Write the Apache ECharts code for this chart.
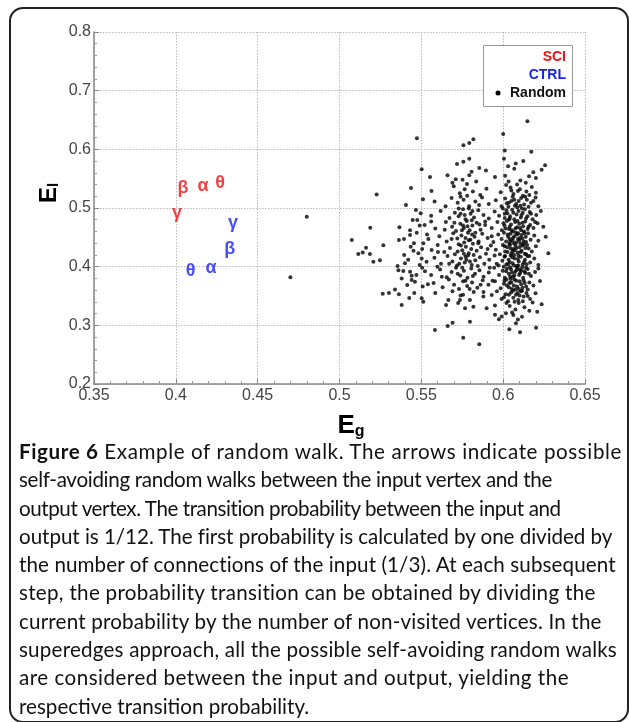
<!DOCTYPE html>
<html>
<head>
<meta charset="utf-8">
<script src="https://cdn.jsdelivr.net/npm/echarts@6/dist/echarts.min.js"></script>
<style>
  html, body { margin: 0; padding: 0; background: #fff; }
  #frame {
    position: absolute; left: 9px; top: 7px; width: 620px; height: 716px;
    box-sizing: border-box; border: 2px solid #222; border-radius: 14px;
  }
  #main { position: absolute; left: 0; top: 0; width: 629px; height: 440px; }
  #caption {
    position: absolute; left: 19px; top: 437px;
    font-family: Lato, "Open Sans", sans-serif; font-size: 20.6px; line-height: 28.3px;
    color: #111; white-space: nowrap;
  }
  #caption .ln { display: block; }
  #caption .ln span { display: inline-block; }
</style>
</head>
<body>
<div id="frame"></div>
<div id="main"></div>
<div id="caption">
<div class="ln" data-w="603"><span><b>Figure 6</b> Example of random walk. The arrows indicate possible</span></div>
<div class="ln" data-w="533"><span>self-avoiding random walks between the input vertex and the</span></div>
<div class="ln" data-w="542"><span>output vertex. The transition probability between the input and</span></div>
<div class="ln" data-w="593"><span>output is 1/12. The first probability is calculated by one divided by</span></div>
<div class="ln" data-w="597"><span>the number of connections of the input (1/3). At each subsequent</span></div>
<div class="ln" data-w="577"><span>step, the probability transition can be obtained by dividing the</span></div>
<div class="ln" data-w="583"><span>current probability by the number of non-visited vertices. In the</span></div>
<div class="ln" data-w="598"><span>superedges approach, all the possible self-avoiding random walks</span></div>
<div class="ln" data-w="550"><span>are considered between the input and output, yielding the</span></div>
<div class="ln"><span>respective transition probability.</span></div>
</div>
<script>
// Greek letter markers (SCI red, CTRL blue)
var sciLetters = ['β', 'α', 'θ', 'γ'];
var sciX = [0.4044, 0.4166, 0.427, 0.4007];
var sciY = [0.534, 0.537, 0.543, 0.4915];

var ctrlLetters = ['γ', 'β', 'α', 'θ'];
var ctrlX = [0.435, 0.433, 0.4215, 0.409];
var ctrlY = [0.474, 0.430, 0.398, 0.393];

// random walk points [Eg, El]
var randomPts = [
  [0.5473,0.619],[0.6148,0.648],[0.600,0.626],[0.5818,0.617],
  [0.5793,0.611],[0.5757,0.607],[0.6172,0.596],
  [0.6005,0.584],[0.5757,0.579],[0.5793,0.584],[0.6123,0.580],[0.601,0.598],
  [0.6077,0.576],[0.6256,0.573],[0.6068,0.567],[0.5854,0.568],[0.5895,0.564],[0.5807,0.562],[0.5502,0.566],[0.5718,0.575],[0.6184,0.561],[0.6235,0.565],[0.603,0.571],
  [0.5553,0.553],[0.571,0.549],[0.569,0.543],[0.5793,0.556],[0.6158,0.554],[0.5950,0.553],[0.5752,0.548],[0.6033,0.545],[0.6105,0.547],[0.620,0.551],[0.5835,0.545],[0.5779,0.541],[0.6085,0.540],[0.6138,0.543],[0.5660,0.556],[0.6012,0.555],
  [0.5437,0.534],[0.5227,0.523],[0.6045,0.535],[0.6102,0.532],[0.6142,0.528],[0.6175,0.536],[0.5985,0.527],[0.6063,0.524],[0.6121,0.521],[0.5765,0.532],[0.5815,0.528],[0.5735,0.525],[0.5860,0.522],[0.5698,0.537],[0.5780,0.521],[0.6018,0.539],[0.6200,0.526],[0.6090,0.529],[0.5562,0.529],[0.5898,0.533],[0.6160,0.522],[0.6050,0.530],
  [0.5406,0.505],[0.5510,0.515],[0.5581,0.511],[0.5685,0.517],[0.5722,0.509],[0.5758,0.514],[0.5792,0.503],[0.5830,0.511],[0.5871,0.518],[0.5912,0.507],[0.5955,0.513],[0.5990,0.503],[0.6012,0.516],[0.6035,0.509],[0.6058,0.519],[0.6072,0.504],[0.6095,0.512],[0.6110,0.517],[0.6128,0.506],[0.6145,0.514],[0.6170,0.509],[0.6198,0.518],[0.6215,0.503],[0.6032,0.502],[0.6087,0.501],[0.5740,0.519],[0.5648,0.503],[0.5853,0.505],[0.6155,0.502],[0.6068,0.514],
  [0.48,0.485],[0.5467,0.4966],[0.5496,0.491],[0.5447,0.4796],[0.5475,0.4796],[0.5560,0.487],[0.5618,0.495],[0.5672,0.483],[0.5705,0.492],[0.5728,0.486],[0.5755,0.498],[0.5770,0.481],[0.5801,0.490],[0.5822,0.484],[0.5848,0.496],[0.5880,0.488],[0.5912,0.482],[0.5948,0.494],[0.5975,0.487],[0.5998,0.499],[0.6010,0.483],[0.6025,0.491],[0.6042,0.486],[0.6055,0.497],[0.6068,0.481],[0.6082,0.489],[0.6094,0.495],[0.6108,0.484],[0.6120,0.492],[0.6133,0.498],[0.6148,0.486],[0.6162,0.493],[0.6180,0.481],[0.6202,0.488],[0.6230,0.495],[0.5790,0.499],[0.5740,0.490],[0.6040,0.482],[0.6115,0.499],[0.6020,0.496],
  [0.5188,0.4665],[0.5366,0.467],[0.5472,0.458],[0.5431,0.462],[0.5520,0.471],[0.5585,0.465],[0.5650,0.476],[0.5688,0.468],[0.5712,0.461],[0.5738,0.473],[0.5760,0.466],[0.5778,0.478],[0.5795,0.462],[0.5812,0.470],[0.5838,0.475],[0.5862,0.463],[0.5890,0.471],[0.5930,0.466],[0.5965,0.476],[0.5992,0.462],[0.6008,0.470],[0.6022,0.478],[0.6036,0.464],[0.6048,0.472],[0.6060,0.460],[0.6073,0.476],[0.6085,0.467],[0.6098,0.473],[0.6110,0.462],[0.6122,0.469],[0.6135,0.477],[0.6150,0.464],[0.6165,0.471],[0.6185,0.466],[0.6210,0.474],[0.6245,0.468],[0.5755,0.470],[0.5808,0.479],[0.6040,0.468],[0.6118,0.475],[0.6075,0.465],[0.6002,0.474],
  [0.5075,0.4455],[0.5363,0.4455],[0.5394,0.447],[0.5431,0.454],[0.5512,0.44],[0.5543,0.447],[0.5610,0.452],[0.5655,0.443],[0.5695,0.457],[0.5720,0.448],[0.5745,0.453],[0.5762,0.441],[0.5785,0.458],[0.5800,0.446],[0.5825,0.451],[0.5850,0.443],[0.5872,0.456],[0.5905,0.449],[0.5940,0.442],[0.5970,0.455],[0.5990,0.447],[0.6005,0.458],[0.6018,0.443],[0.6030,0.451],[0.6045,0.456],[0.6057,0.445],[0.6068,0.452],[0.6080,0.441],[0.6092,0.457],[0.6102,0.449],[0.6112,0.454],[0.6125,0.443],[0.6138,0.451],[0.6152,0.457],[0.6168,0.446],[0.6190,0.453],[0.6215,0.444],[0.626,0.451],[0.6060,0.449],[0.6098,0.444],[0.6085,0.455],[0.6040,0.447],[0.5770,0.449],[0.5810,0.455],[0.6130,0.457],
  [0.5115,0.4216],[0.5142,0.424],[0.5162,0.4324],[0.5186,0.4216],[0.5268,0.4365],[0.5435,0.434],[0.5482,0.4227],[0.5563,0.4284],[0.5600,0.437],[0.5640,0.425],[0.5675,0.432],[0.5705,0.421],[0.5728,0.438],[0.5750,0.428],[0.5772,0.434],[0.5790,0.423],[0.5815,0.439],[0.5838,0.427],[0.5865,0.433],[0.5895,0.422],[0.5925,0.436],[0.5955,0.429],[0.5980,0.421],[0.5998,0.437],[0.6012,0.426],[0.6025,0.433],[0.6038,0.439],[0.6050,0.422],[0.6062,0.430],[0.6075,0.436],[0.6088,0.424],[0.6100,0.433],[0.6113,0.427],[0.6125,0.438],[0.6140,0.421],[0.6155,0.431],[0.6175,0.426],[0.6200,0.435],[0.6276,0.4228],[0.6070,0.428],[0.6105,0.439],[0.6045,0.431],[0.5760,0.422],[0.6010,0.435],[0.6135,0.432],
  [0.5207,0.4085],[0.5247,0.411],[0.5400,0.4057],[0.5355,0.4011],[0.5502,0.414],[0.5532,0.4085],[0.5580,0.415],[0.5620,0.405],[0.5660,0.418],[0.5690,0.409],[0.5718,0.402],[0.5742,0.414],[0.5765,0.407],[0.5785,0.419],[0.5808,0.403],[0.5830,0.411],[0.5858,0.416],[0.5885,0.405],[0.5915,0.412],[0.5948,0.419],[0.5972,0.402],[0.5995,0.410],[0.6008,0.417],[0.6020,0.404],[0.6033,0.412],[0.6046,0.419],[0.6058,0.406],[0.6070,0.414],[0.6083,0.401],[0.6095,0.409],[0.6108,0.417],[0.6120,0.404],[0.6133,0.412],[0.6148,0.418],[0.6165,0.407],[0.6190,0.414],[0.6215,0.403],[0.6055,0.416],[0.6090,0.413],[0.6040,0.408],[0.6128,0.408],[0.5775,0.412],
  [0.5360,0.394],[0.5390,0.3926],[0.5431,0.3915],[0.5441,0.3845],[0.5505,0.398],[0.5560,0.386],[0.5615,0.395],[0.5655,0.382],[0.5685,0.391],[0.5712,0.398],[0.5738,0.385],[0.5760,0.393],[0.5782,0.381],[0.5805,0.397],[0.5828,0.388],[0.5855,0.394],[0.5880,0.383],[0.5912,0.390],[0.5945,0.398],[0.5975,0.386],[0.5997,0.393],[0.6010,0.381],[0.6023,0.397],[0.6035,0.388],[0.6048,0.395],[0.6060,0.383],[0.6073,0.391],[0.6085,0.398],[0.6097,0.386],[0.6110,0.393],[0.6122,0.381],[0.6135,0.389],[0.6150,0.396],[0.6170,0.384],[0.6195,0.391],[0.6215,0.397],[0.6068,0.385],[0.6100,0.395],[0.6042,0.383],[0.6140,0.398],
  [0.5441,0.3773],[0.5461,0.3744],[0.5414,0.3688],[0.5339,0.361],[0.5508,0.366],[0.5575,0.372],[0.5630,0.365],[0.5668,0.378],[0.5700,0.369],[0.5730,0.362],[0.5755,0.375],[0.5780,0.367],[0.5810,0.373],[0.5842,0.364],[0.5875,0.377],[0.5910,0.369],[0.5950,0.375],[0.5985,0.363],[0.6005,0.371],[0.6020,0.378],[0.6035,0.365],[0.6050,0.373],[0.6065,0.368],[0.6080,0.376],[0.6095,0.362],[0.6110,0.370],[0.6125,0.377],[0.6140,0.366],[0.6160,0.373],[0.6185,0.368],[0.6225,0.3756],[0.6075,0.361],[0.6045,0.379],[0.6118,0.364],
  [0.5264,0.354],[0.5302,0.355],[0.5363,0.353],[0.5426,0.3466],[0.5457,0.355],[0.5502,0.346],[0.5512,0.3403],[0.5665,0.3432],[0.5736,0.3432],[0.5797,0.3432],[0.5879,0.349],[0.593,0.3517],[0.5962,0.358],[0.5990,0.345],[0.6015,0.353],[0.6030,0.341],[0.6048,0.356],[0.6062,0.347],[0.6078,0.352],[0.6092,0.343],[0.6108,0.358],[0.6125,0.349],[0.6142,0.355],[0.6165,0.345],[0.6198,0.3545],[0.5820,0.357],[0.5755,0.352],[0.5690,0.358],[0.6060,0.359],[0.6100,0.351],
  [0.538,0.3347],[0.5651,0.3347],[0.5818,0.3318],[0.5767,0.329],[0.5899,0.329],[0.6235,0.336],[0.6208,0.323],[0.6115,0.3148],[0.6062,0.3177],[0.6017,0.3205],[0.5991,0.315],[0.6040,0.333],[0.6075,0.327],[0.6095,0.338],[0.6130,0.331],[0.6160,0.325],[0.6020,0.338],[0.6055,0.322],[0.5950,0.334],[0.5725,0.338],
  [0.5583,0.292],[0.5661,0.299],[0.5691,0.3045],[0.5756,0.279],[0.5854,0.2677],[0.5797,0.3063],[0.5974,0.3103],[0.6038,0.2933],[0.6103,0.288],[0.6078,0.3035],[0.6201,0.296],[0.5950,0.318],[0.6090,0.310],
  [0.47,0.382],
  // denser core, right cluster
  [0.6015,0.465],[0.6028,0.455],[0.6043,0.443],[0.6052,0.462],[0.6065,0.440],[0.6078,0.458],[0.6090,0.447],[0.6103,0.466],[0.6117,0.448],[0.6127,0.460],[0.6140,0.442],[0.6155,0.468],
  [0.6012,0.418],[0.6027,0.425],[0.6042,0.437],[0.6057,0.426],[0.6067,0.420],[0.6080,0.432],[0.6093,0.419],[0.6107,0.425],[0.6118,0.436],[0.6132,0.422],[0.6146,0.437],[0.6160,0.418],
  [0.6003,0.400],[0.6018,0.392],[0.6030,0.404],[0.6043,0.399],[0.6054,0.390],[0.6066,0.402],[0.6080,0.394],[0.6092,0.402],[0.6104,0.389],[0.6117,0.399],[0.6130,0.392],[0.6143,0.404],[0.6157,0.388],
  [0.6008,0.376],[0.6023,0.368],[0.6038,0.372],[0.6053,0.362],[0.6068,0.378],[0.6085,0.366],[0.6100,0.375],[0.6115,0.359],[0.6132,0.372],[0.6150,0.361],
  [0.6005,0.348],[0.6035,0.352],[0.6070,0.340],[0.6088,0.355],[0.6120,0.341],[0.6150,0.350],[0.6180,0.339],
  [0.6010,0.490],[0.6035,0.480],[0.6062,0.492],[0.6088,0.478],[0.6112,0.488],[0.6140,0.482],[0.6170,0.490],[0.6195,0.476],
  [0.6022,0.508],[0.6050,0.512],[0.6080,0.507],[0.6105,0.504],[0.6135,0.519],[0.6185,0.512],
  // denser core, middle cluster
  [0.5702,0.475],[0.5748,0.462],[0.5782,0.469],[0.5830,0.458],[0.5855,0.472],[0.5790,0.445],[0.5742,0.436],[0.5805,0.430],[0.5848,0.440],[0.5722,0.426],[0.5770,0.417],[0.5820,0.420],[0.5732,0.405],[0.5797,0.409],[0.5845,0.401],[0.5750,0.398],[0.5815,0.384],[0.5770,0.376],[0.5722,0.388],[0.5862,0.369],[0.5795,0.362],[0.5740,0.351],[0.5880,0.357],[0.5905,0.430],[0.5930,0.452],[0.5918,0.398],[0.5935,0.376],[0.5960,0.405],[0.5890,0.477],[0.5765,0.488],[0.5812,0.495],[0.5728,0.499],[0.5685,0.447],[0.5670,0.405],[0.5643,0.463],[0.5602,0.425],[0.5625,0.383],
  // left cluster
  [0.5395,0.420],[0.5420,0.412],[0.5452,0.427],[0.5490,0.403],[0.5522,0.392],[0.5470,0.386],[0.5535,0.455],[0.5490,0.470],[0.5560,0.477],[0.5455,0.440],[0.5505,0.430],[0.5380,0.380],[0.5540,0.370],[0.5585,0.355],[0.5598,0.400]
];

var xTicks = { min: 0.35, max: 0.65, interval: 0.05 };
var yTicks = { min: 0.2, max: 0.8, interval: 0.1 };

var sciColor = '#ee1111';
var ctrlColor = '#1a22ee';
var fontFam = 'Liberation Sans, Arial, sans-serif';

function letterData(xs, ys, ls) {
  return xs.map(function (x, i) { return [x, ys[i], ls[i]]; });
}

// fit each caption line to the width it has in the figure
Array.prototype.forEach.call(document.querySelectorAll('#caption .ln[data-w]'), function (ln) {
  var span = ln.firstElementChild;
  var target = +ln.getAttribute('data-w');
  var n = span.textContent.length;
  var w = span.getBoundingClientRect().width;
  span.style.letterSpacing = ((target - w) / n).toFixed(3) + 'px';
});

var myChart = echarts.init(document.getElementById('main'));

var axisCommon = {
  type: 'value',
  axisLine: { show: true, lineStyle: { color: '#888', width: 1.5 } },
  axisTick: { show: true, inside: true, length: 5, lineStyle: { color: '#888' } },
  minorTick: { show: true, splitNumber: 5, length: 3, lineStyle: { color: '#999' } },
  splitLine: { show: true, lineStyle: { color: '#b8b8b8', type: [1.5, 1.5], width: 1 } },
  axisLabel: { color: '#444', fontSize: 16, fontFamily: fontFam }
};

function letterLabel(color) {
  return { show: true, position: 'inside', formatter: function (p) { return p.value[2]; },
    color: color, fontSize: 18, fontWeight: 'bold', fontFamily: fontFam,
    textBorderWidth: 0, textBorderColor: 'transparent' };
}

var option = {
  animation: false,
  grid: { left: 94, right: 44, top: 32, height: 352 },
  xAxis: Object.assign({}, axisCommon, {
    min: xTicks.min, max: xTicks.max, interval: xTicks.interval,
    axisLabel: Object.assign({}, axisCommon.axisLabel, { margin: 4, formatter: function (v) { return +v.toFixed(2) + ''; } })
  }),
  yAxis: Object.assign({}, axisCommon, {
    min: yTicks.min, max: yTicks.max, interval: yTicks.interval,
    axisLabel: Object.assign({}, axisCommon.axisLabel, { margin: 3, formatter: function (v) { return +v.toFixed(1) + ''; } })
  }),
  series: [
    {
      name: 'Random', type: 'scatter', data: randomPts,
      symbol: 'circle', symbolSize: 4, itemStyle: { color: '#000' }
    },
    {
      name: 'SCI', type: 'scatter', data: letterData(sciX, sciY, sciLetters),
      symbolSize: 1, itemStyle: { color: 'rgba(0,0,0,0)' }, label: letterLabel(sciColor)
    },
    {
      name: 'CTRL', type: 'scatter', data: letterData(ctrlX, ctrlY, ctrlLetters),
      symbolSize: 1, itemStyle: { color: 'rgba(0,0,0,0)' }, label: letterLabel(ctrlColor)
    }
  ],
  graphic: [
    // legend box
    { type: 'rect', left: 483, top: 45, shape: { width: 89, height: 61 },
      style: { fill: '#fff', stroke: '#999', lineWidth: 1 }, z: 10 },
    { type: 'text', x: 566, y: 57, z: 11,
      style: { text: 'SCI', align: 'right', verticalAlign: 'middle', fill: sciColor, font: 'bold 14px ' + fontFam } },
    { type: 'text', x: 566, y: 75, z: 11,
      style: { text: 'CTRL', align: 'right', verticalAlign: 'middle', fill: ctrlColor, font: 'bold 14px ' + fontFam } },
    { type: 'text', x: 566, y: 93, z: 11,
      style: { text: 'Random', align: 'right', verticalAlign: 'middle', fill: '#111', font: 'bold 14px ' + fontFam } },
    { type: 'circle', shape: { cx: 498, cy: 93, r: 2.5 }, style: { fill: '#000' }, z: 11 },
    // axis titles
    { type: 'text', x: 49, y: 193, rotation: Math.PI / 2,
      style: { text: '{e|E}{s|l}', align: 'center', verticalAlign: 'middle',
        rich: { e: { font: 'bold 24px ' + fontFam, fill: '#000' },
                s: { font: 'bold 15px ' + fontFam, fill: '#000', padding: [10, 0, 0, 0] } } } },
    { type: 'text', x: 351, y: 426,
      style: { text: '{e|E}{s|g}', align: 'center', verticalAlign: 'middle',
        rich: { e: { font: 'bold 26px ' + fontFam, fill: '#000' },
                s: { font: 'bold 16px ' + fontFam, fill: '#000', padding: [12, 0, 0, 0] } } } }
  ]
};

myChart.setOption(option);
</script>
</body>
</html>
